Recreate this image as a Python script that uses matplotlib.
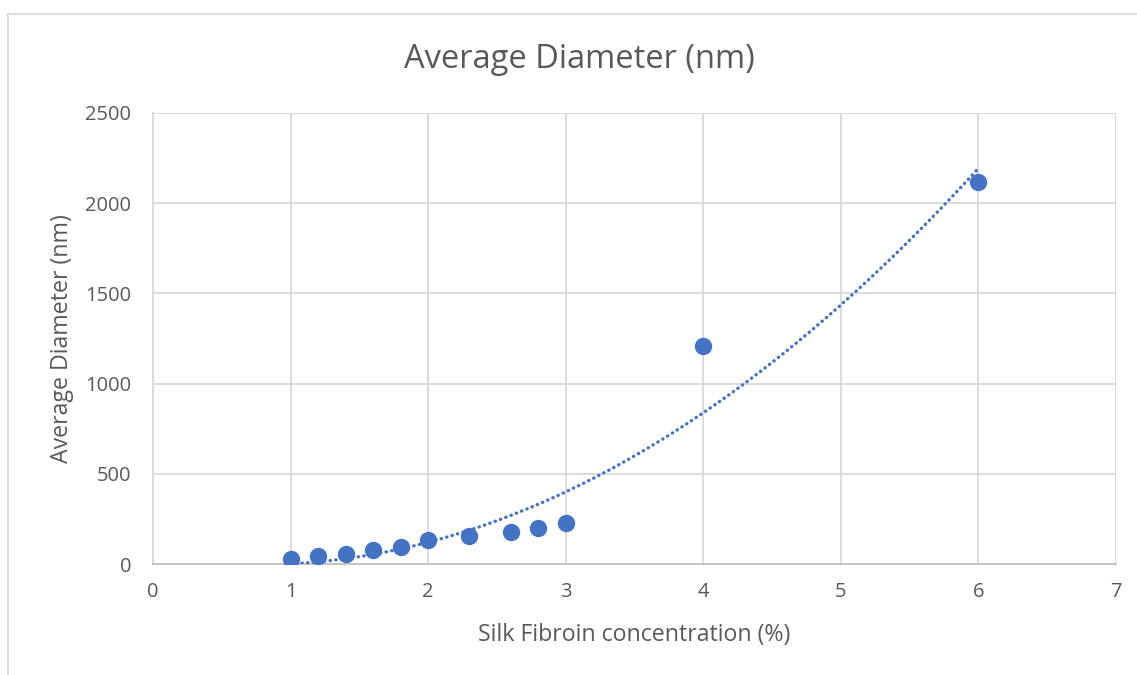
import numpy as np
import matplotlib.pyplot as plt
from matplotlib.lines import Line2D

# Data
konsentrasi = [1, 1.2, 1.4, 1.6, 1.8, 2, 2.3, 2.6, 2.8, 3, 4, 6]
diameter = [30, 45, 55, 80, 95, 135, 155, 175, 200, 225, 1210, 2115]
xticks = [0, 1, 2, 3, 4, 5, 6, 7]
yticks = [0, 500, 1000, 1500, 2000, 2500]

plt.rcParams['font.family'] = ['Open Sans', 'DejaVu Sans']
teks = '#595959'
biru = '#4472C4'

fig = plt.figure(figsize=(11.37, 6.75), dpi=100)
W, H = 1137, 675
ax = fig.add_axes([153 / W, 1 - 564 / H, (1116 - 153) / W, (564 - 113) / H])

# Trendline polinomial orde 2 (seperti Excel)
koef = np.polyfit(konsentrasi, diameter, 2)
xt = np.linspace(min(konsentrasi), max(konsentrasi), 200)
ax.plot(xt, np.polyval(koef, xt), color=biru, lw=2.4,
        linestyle=(0, (0.1, 1.6)), dash_capstyle='round', zorder=3)

ax.plot(konsentrasi, diameter, 'o', color=biru, ms=11.5, zorder=4)

ax.set_xlim(0, 7)
ax.set_ylim(0, 2500)
ax.set_xticks(xticks)
ax.set_yticks(yticks)
ax.grid(True, color='#D9D9D9', lw=1.3)
ax.set_axisbelow(True)
for s in ['top', 'right']:
    ax.spines[s].set_visible(False)
for s in ['left', 'bottom']:
    ax.spines[s].set_color('#D9D9D9')
    ax.spines[s].set_linewidth(1.3)
ax.spines['bottom'].set_color('#BFBFBF')
ax.tick_params(length=0, labelsize=14.5, labelcolor=teks)
ax.tick_params(axis='x', pad=13)
ax.tick_params(axis='y', pad=15.5)

ax.set_xlabel('Silk Fibroin concentration (%)', fontsize=16.7, color=teks, va='center')
ax.set_ylabel('Average Diameter (nm)', fontsize=16.7, color=teks, va='center')
ax.xaxis.set_label_coords(0.5, -0.157)
ax.yaxis.set_label_coords(-0.0945, 0.5)
fig.text(579 / W, 1 - 59 / H, 'Average Diameter (nm)', fontsize=23.5, color=teks,
         ha='center', va='center')

# Bingkai chart
fig.add_artist(Line2D([8 / W, 1], [1 - 14 / H, 1 - 14 / H], color='#D9D9D9', lw=1.3))
fig.add_artist(Line2D([8 / W, 8 / W], [0, 1 - 14 / H], color='#D9D9D9', lw=1.3))

fig.savefig('out.png', dpi=100)
